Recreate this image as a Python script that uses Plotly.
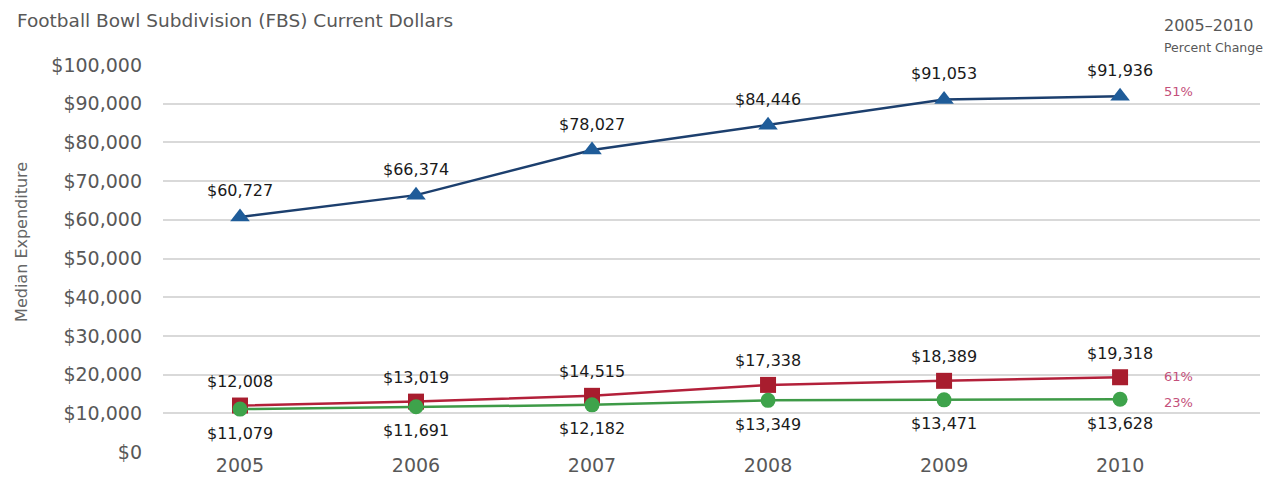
import plotly.graph_objects as go

years = ["2005", "2006", "2007", "2008", "2009", "2010"]
blue_vals = [60727, 66374, 78027, 84446, 91053, 91936]
red_vals = [12008, 13019, 14515, 17338, 18389, 19318]
green_vals = [11079, 11691, 12182, 13349, 13471, 13628]
pct_labels = ["51%", "61%", "23%"]
y_ticks = [0, 10000, 20000, 30000, 40000, 50000, 60000, 70000, 80000, 90000, 100000]
y_tick_text = ["$" + format(v, ",") for v in y_ticks]

xs = list(range(len(years)))
FONT = "DejaVu Sans, Liberation Sans, sans-serif"
LABEL_COLOR = "#1a1a1a"
GREY = "#585858"

def fmt(v):
    return "$" + format(v, ",")

fig = go.Figure()
fig.add_trace(go.Scatter(
    x=xs, y=blue_vals, mode="lines+markers",
    line=dict(color="#1c3f6e", width=2.5),
    marker=dict(symbol="triangle-up", size=17, color="#1f5c99"),
    cliponaxis=False, showlegend=False))
fig.add_trace(go.Scatter(
    x=xs, y=red_vals, mode="lines+markers",
    line=dict(color="#b3203a", width=2.5),
    marker=dict(symbol="square", size=16, color="#a81d2e"),
    cliponaxis=False, showlegend=False))
fig.add_trace(go.Scatter(
    x=xs, y=green_vals, mode="lines+markers",
    line=dict(color="#3e9a47", width=2.5),
    marker=dict(symbol="circle", size=15, color="#3ea34b"),
    cliponaxis=False, showlegend=False))

# value labels
for vals, shift in ((blue_vals, 26), (red_vals, 24), (green_vals, -24)):
    for x, v in zip(xs, vals):
        fig.add_annotation(x=x, y=v, text=fmt(v), showarrow=False,
                           xanchor="center", yanchor="middle", yshift=shift,
                           font=dict(family=FONT, size=16, color=LABEL_COLOR))

# percent change labels
last_vals = [blue_vals[-1], red_vals[-1], green_vals[-1]]
for lab, v, ys in zip(pct_labels, last_vals, (5, 1, -3)):
    fig.add_annotation(x=len(years) - 1 + 0.239, y=v, text=lab, showarrow=False,
                       xanchor="left", yanchor="middle", yshift=ys,
                       font=dict(family=FONT, size=13, color="#c4507a"))

fig.add_annotation(xref="paper", yref="paper", x=-0.135, y=1.116,
                   text="Football Bowl Subdivision (FBS) Current Dollars",
                   showarrow=False, xanchor="left", yanchor="middle",
                   font=dict(family=FONT, size=18.5, color=GREY))
fig.add_annotation(xref="paper", yref="paper", x=0.9107, y=1.103,
                   text="2005–2010", showarrow=False,
                   xanchor="left", yanchor="middle",
                   font=dict(family=FONT, size=16, color=GREY))
fig.add_annotation(xref="paper", yref="paper", x=0.9107, y=1.0465,
                   text="Percent Change", showarrow=False,
                   xanchor="left", yanchor="middle",
                   font=dict(family=FONT, size=12.5, color=GREY))
fig.add_annotation(xref="paper", yref="paper", x=-0.1285, y=0.543,
                   text="Median Expenditure", textangle=-90,
                   showarrow=False, xanchor="center", yanchor="middle",
                   font=dict(family=FONT, size=16, color="#666666"))

fig.update_layout(
    width=1268, height=480,
    margin=dict(l=155, r=16, t=57, b=36),
    plot_bgcolor="white", paper_bgcolor="white",
    font=dict(family=FONT, color=GREY),
    xaxis=dict(range=[-0.4375, 5.795], tickvals=xs, ticktext=years,
               showgrid=False, zeroline=False, showline=False,
               tickfont=dict(size=19, color=GREY), ticks=""),
    yaxis=dict(range=[0, 100000], tickvals=y_ticks, ticktext=y_tick_text,
               showgrid=True, gridcolor="#d9d9d9", gridwidth=2,
               zeroline=False, showline=False, ticks="",
               tickfont=dict(size=19, color=GREY), ticklabelstandoff=20),
)

fig.write_html("out.html")
